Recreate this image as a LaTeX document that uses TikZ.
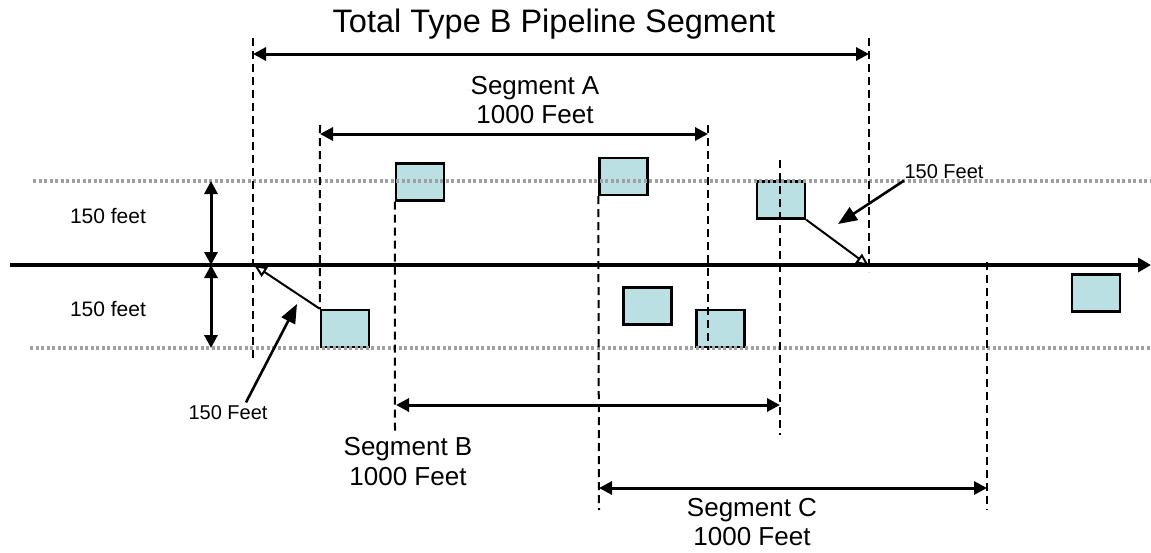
\documentclass[tikz,border=0pt]{standalone}
\usepackage{fontspec}
\setmainfont{Liberation Sans}
\usepackage{tikz}
\usetikzlibrary{arrows.meta,positioning}
\definecolor{bleu}{RGB}{187,224,227}
\definecolor{gris}{RGB}{160,160,160}
\tikzstyle{bloc}=[draw=black, line width=2.4pt, fill=bleu, minimum width=48pt, minimum height=37pt, inner sep=0pt]
\tikzstyle{repere}=[line width=2pt, dash pattern=on 8pt off 5pt]
\tikzstyle{limite}=[gris, line width=3.5pt, dash pattern=on 3pt off 2.5pt]
\tikzstyle{cote}=[line width=3pt, {Triangle[length=13pt,width=13pt]}-{Triangle[length=13pt,width=13pt]}]
\tikzstyle{fleche}=[line width=2.6pt, -{Triangle[length=19pt,width=15pt]}]
\tikzstyle{renvoi}=[line width=2pt, -{Triangle[open,length=13pt,width=11pt]}]

\begin{document}
\begin{tikzpicture}[x=1pt,y=-1pt]
\useasboundingbox (0,0) rectangle (1151,552);

% blocs
\node[bloc] (b1) at (420,182) {};
\node[bloc] (b2) at (623.5,176.5) {};
\node[bloc] (b3) at (781,200) {};
\node[bloc] (b4) at (647.5,306) {};
\node[bloc] (b5) at (720.5,328.5) {};
\node[bloc] (b6) at (1096,293) {};
\node[bloc] (b7) at (345,328.5) {};

% limites
\coordinate (h1) at (33,181); \coordinate (h2) at (1151,181);
\coordinate (g1) at (30,348); \coordinate (g2) at (1151,348);
\draw[limite] (h1) -- (h2);
\draw[limite] (g1) -- (g2);

% conduite
\coordinate (c0) at (10,265); \coordinate (c1) at (1151,265);
\draw[line width=4.5pt, -{Triangle[length=13pt,width=14pt]}] (c0) -- (c1);

% reperes
\coordinate (t1) at (253,38); \coordinate (t1b) at (253,358);
\coordinate (t2) at (869,38); \coordinate (t2b) at (869,272);
\coordinate (a1) at (320,125);
\coordinate (a2) at (708,125); \coordinate (a2b) at (708,350);
\coordinate (bb1) at (395,433);
\coordinate (bb2) at (780,160); \coordinate (bb2b) at (780,435);
\coordinate (cc1) at (599,510);
\coordinate (cc2) at (987,262); \coordinate (cc2b) at (987,510);
\draw[repere] (t1) -- (t1b);
\draw[repere] (t2) -- (t2b);
\draw[repere] (a1) -- (b7.north west);
\draw[repere] (a2) -- (a2b);
\draw[repere] (b1.south west) -- (bb1);
\draw[repere] (bb2) -- (bb2b);
\draw[repere] (b2.south west) -- (cc1);
\draw[repere] (cc2) -- (cc2b);

% cotes
\coordinate (ta) at (253,54); \coordinate (tb) at (869,54);
\coordinate (sa1) at (320,134); \coordinate (sa2) at (708,134);
\coordinate (sb1) at (396,405); \coordinate (sb2) at (780,405);
\coordinate (sc1) at (599,488); \coordinate (sc2) at (987,488);
\draw[cote] (ta) -- (tb);
\draw[cote] (sa1) -- (sa2);
\draw[cote] (sb1) -- (sb2);
\draw[cote] (sc1) -- (sc2);

% 150 feet
\coordinate (v1) at (211,181); \coordinate (v0) at (211,265); \coordinate (v2) at (211,348);
\draw[cote] (v1) -- (v0);
\draw[cote] (v0) -- (v2);
\node[font=\fontsize{21}{24}\selectfont] (lh) at (108,216) {150 feet};
\node[font=\fontsize{21}{24}\selectfont] (lg) at (108,309) {150 feet};

% textes
\node[font=\fontsize{32.5}{36}\selectfont] (titre) at (554,24) {Total Type B Pipeline Segment};
\node[align=center, font=\fontsize{26}{29}\selectfont] (la) at (535,100) {Segment A\\1000 Feet};
\node[align=center, font=\fontsize{26}{30}\selectfont] (lb) at (408,462) {Segment B\\1000 Feet};
\node[align=center, font=\fontsize{26}{29}\selectfont] (lc) at (752,522) {Segment C\\1000 Feet};

% renvois
\node[font=\fontsize{20}{24}\selectfont] (f1) at (228,413) {150 Feet};
\node[font=\fontsize{20}{24}\selectfont] (f2) at (944,172) {150 Feet};
\coordinate (p1) at (297,304); \coordinate (p2) at (838,224);
\draw[fleche] ([xshift=18pt]f1.north) -- (p1);
\draw[fleche] ([xshift=3pt,yshift=2pt]f2.south west) -- (p2);
\coordinate (i1) at (254,265); \coordinate (i2) at (869,266);
\draw[renvoi] (b7.north west) -- (i1);
\draw[renvoi] (b3.south east) -- (i2);

\end{tikzpicture}
\end{document}
